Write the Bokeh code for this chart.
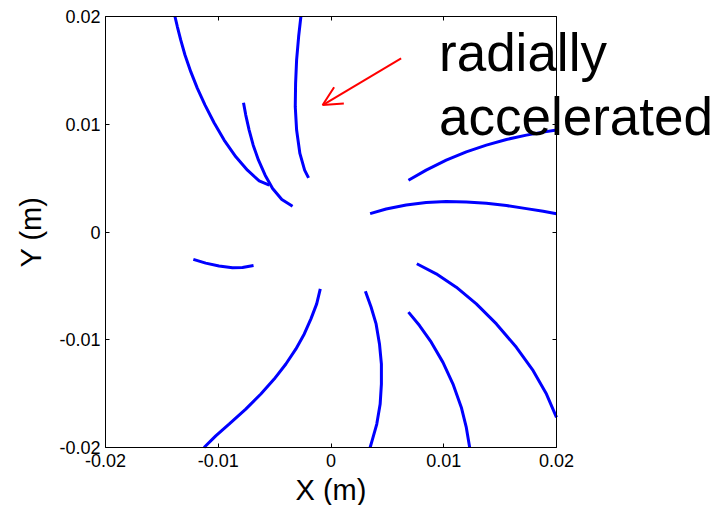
import math
from bokeh.plotting import figure
from bokeh.models import (Range1d, FixedTicker, LinearAxis, Arrow, OpenHead, Label,
                          CustomJSTickFormatter)
from bokeh.embed import file_html
from bokeh.resources import INLINE

# --- data ---
c1_x = [-0.01384, -0.01363, -0.01333, -0.01295, -0.01244, -0.01185, -0.01117, -0.01037,
        -0.00948, -0.00844, -0.00741, -0.00637, -0.00548]
c1_y = [0.02000, 0.01907, 0.01783, 0.01643, 0.01488, 0.01333, 0.01178, 0.01014,
        0.00853, 0.00698, 0.00574, 0.00474, 0.00434]
c2_x = [-0.00776, -0.00756, -0.00726, -0.00690, -0.00643, -0.00584, -0.00518, -0.00436, -0.00341]
c2_y = [0.01200, 0.01085, 0.00946, 0.00806, 0.00667, 0.00527, 0.00403, 0.00301, 0.00239]
c3_x = [-0.00267, -0.00287, -0.00305, -0.00314, -0.00317, -0.00305, -0.00276, -0.00234, -0.00199]
c3_y = [0.02000, 0.01814, 0.01597, 0.01380, 0.01163, 0.00946, 0.00729, 0.00574, 0.00502]
c4_x = [0.00687, 0.00844, 0.01022, 0.01200, 0.01378, 0.01556, 0.01733, 0.01882, 0.02000]
c4_y = [0.00480, 0.00574, 0.00667, 0.00744, 0.00806, 0.00859, 0.00899, 0.00927, 0.00946]
c5_x = [0.00347, 0.00489, 0.00667, 0.00844, 0.01022, 0.01200, 0.01378, 0.01556, 0.01733,
        0.01882, 0.02000]
c5_y = [0.00170, 0.00214, 0.00251, 0.00273, 0.00282, 0.00279, 0.00267, 0.00245, 0.00217,
        0.00192, 0.00170]
c6_x = [-0.01221, -0.01111, -0.00993, -0.00874, -0.00785, -0.00687]
c6_y = [-0.00254, -0.00289, -0.00316, -0.00332, -0.00329, -0.00310]
c7_x = [-0.00095, -0.00127, -0.00178, -0.00237, -0.00311, -0.00400, -0.00504, -0.00622,
        -0.00756, -0.00904, -0.01022, -0.01126]
c7_y = [-0.00527, -0.00667, -0.00806, -0.00946, -0.01085, -0.01225, -0.01365, -0.01504,
        -0.01644, -0.01783, -0.01892, -0.02000]
c8_x = [0.00305, 0.00356, 0.00400, 0.00430, 0.00447, 0.00447, 0.00436, 0.00406, 0.00364, 0.00347]
c8_y = [-0.00549, -0.00698, -0.00853, -0.01039, -0.01225, -0.01411, -0.01597, -0.01783,
        -0.01938, -0.02000]
c9_x = [0.00687, 0.00785, 0.00889, 0.00993, 0.01082, 0.01156, 0.01200, 0.01230]
c9_y = [-0.00744, -0.00868, -0.01023, -0.01210, -0.01411, -0.01628, -0.01814, -0.02000]
c10_x = [0.00761, 0.00933, 0.01111, 0.01289, 0.01467, 0.01644, 0.01793, 0.01911, 0.02000]
c10_y = [-0.00295, -0.00388, -0.00512, -0.00667, -0.00853, -0.01070, -0.01287, -0.01504, -0.01721]

curves = [(c1_x, c1_y), (c2_x, c2_y), (c3_x, c3_y), (c4_x, c4_y), (c5_x, c5_y),
          (c6_x, c6_y), (c7_x, c7_y), (c8_x, c8_y), (c9_x, c9_y), (c10_x, c10_y)]

tick_values = [-0.02, -0.01, 0.0, 0.01, 0.02]
tick_labels = ["-0.02", "-0.01", "0", "0.01", "0.02"]
x_limits = (-0.02, 0.02)
y_limits = (-0.02, 0.02)
x_title = "X (m)"
y_title = "Y (m)"

arrow_start = (0.00622, 0.01612)
arrow_end = (-0.00074, 0.01178)
note_lines = ["radially", "accelerated"]
note_x = 0.00958
note_y = [0.01665, 0.01075]

FONT = "Liberation Sans"

# --- layout: the frame fills the page so that texts may run outside the axes box ---
W, H = 727, 505
BOX_L, BOX_R, BOX_T, BOX_B = 105, 556, 16, 447
sx = (x_limits[1] - x_limits[0]) / (BOX_R - BOX_L)
sy = (y_limits[1] - y_limits[0]) / (BOX_B - BOX_T)
x_rng = Range1d(x_limits[0] - BOX_L * sx, x_limits[1] + (W - BOX_R) * sx)
y_rng = Range1d(y_limits[0] - (H - BOX_B) * sy, y_limits[1] + BOX_T * sy)

p = figure(width=W, height=H, frame_width=W, frame_height=H,
           min_border_left=0, min_border_right=0, min_border_top=0, min_border_bottom=0,
           x_range=x_rng, y_range=y_rng,
           output_backend="svg", toolbar_location=None)
p.background_fill_color = "white"
p.border_fill_color = "white"
p.grid.visible = False
p.outline_line_color = None

for xs, ys in curves:
    p.line(xs, ys, line_color="#0000ff", line_width=3)

overrides = {v: l for v, l in zip(tick_values, tick_labels)}
blank = CustomJSTickFormatter(code="return ''")


def style_axis(ax, labelled):
    ax.ticker = FixedTicker(ticks=tick_values)
    ax.major_tick_in = 4
    ax.major_tick_out = 0
    ax.minor_tick_line_color = None
    ax.axis_line_color = "black"
    ax.axis_line_width = 1
    if labelled:
        ax.major_label_overrides = overrides
        ax.major_label_text_font = FONT
        ax.major_label_text_font_size = "18px"
        ax.major_label_text_color = "black"
    else:
        ax.formatter = blank


bottom = p.xaxis[0]
left = p.yaxis[0]
style_axis(bottom, True)
style_axis(left, True)
bottom.bounds = x_limits
left.bounds = y_limits
bottom.fixed_location = y_limits[0]
left.fixed_location = x_limits[0]
bottom.major_label_standoff = 6
left.major_label_standoff = 5

top = LinearAxis(bounds=x_limits, fixed_location=y_limits[1])
right = LinearAxis(bounds=y_limits, fixed_location=x_limits[1])
style_axis(top, False)
style_axis(right, False)
p.add_layout(top, "above")
p.add_layout(right, "right")

# axis titles
p.add_layout(Label(x=0.5 * (x_limits[0] + x_limits[1]), y=y_limits[0], y_offset=-42,
                   text=x_title, text_font=FONT, text_font_size="29px", text_color="black",
                   text_align="center", text_baseline="alphabetic"))
p.add_layout(Label(x=x_limits[0], y=0.5 * (y_limits[0] + y_limits[1]), x_offset=-75,
                   angle=math.pi / 2, text=y_title, text_font=FONT, text_font_size="29px",
                   text_color="black", text_align="center", text_baseline="alphabetic"))

p.add_layout(Arrow(end=OpenHead(size=19, line_color="red", line_width=2),
                   x_start=arrow_start[0], y_start=arrow_start[1],
                   x_end=arrow_end[0], y_end=arrow_end[1],
                   line_color="red", line_width=2))

for txt, ty in zip(note_lines, note_y):
    p.add_layout(Label(x=note_x, y=ty, text=txt, text_font=FONT,
                       text_font_size="53px", text_color="black",
                       text_baseline="alphabetic", text_align="left"))

open("out.html", "w").write(file_html(p, INLINE))
